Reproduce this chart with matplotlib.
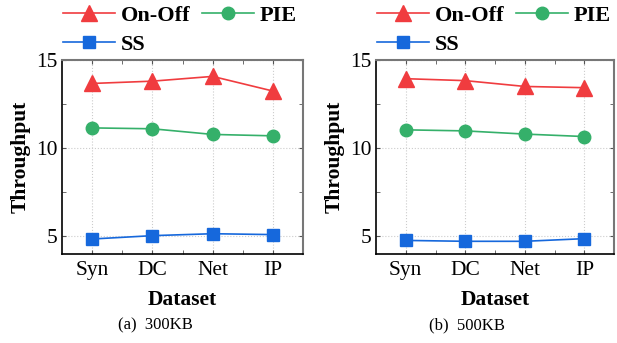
import numpy as np
import matplotlib.pyplot as plt

plt.rcParams['font.family'] = ['Liberation Serif', 'DejaVu Serif']

datasets = ['Syn', 'DC', 'Net', 'IP']
onoff_300 = [13.67, 13.80, 14.07, 13.24]
pie_300 = [11.15, 11.10, 10.78, 10.70]
ss_300 = [4.85, 5.04, 5.15, 5.10]
onoff_500 = [13.94, 13.83, 13.50, 13.43]
pie_500 = [11.04, 10.98, 10.80, 10.66]
ss_500 = [4.77, 4.72, 4.72, 4.87]
captions = ['(a)  300KB', '(b)  500KB']

red = '#f03c3f'
green = '#35b06a'
blue = '#1668dc'

fig = plt.figure(figsize=(6.17, 3.43), dpi=100)
W, H = 617, 343
boxes = [(62, 60, 303, 254), (376, 60, 614, 254)]
panels = [(onoff_300, pie_300, ss_300), (onoff_500, pie_500, ss_500)]
cap_x = [155, 467]

x = np.arange(len(datasets))
for (x0, y0, x1, y1), (on, pie, ss), cap, cx in zip(boxes, panels, captions, cap_x):
    ax = fig.add_axes([x0 / W, 1 - y1 / H, (x1 - x0) / W, (y1 - y0) / H])
    l1, = ax.plot(x, on, color=red, marker='^', markersize=11, lw=1.2, label='On-Off')
    l2, = ax.plot(x, pie, color=green, marker='o', markersize=9, lw=1.2, label='PIE')
    l3, = ax.plot(x, ss, color=blue, marker='s', markersize=8, lw=1.2, label='SS')
    ax.set_xlim(-0.5, 3.5)
    ax.set_ylim(4, 15)
    ax.set_xticks(x)
    ax.set_xticklabels(datasets)
    ax.set_xticks([0.5, 1.5, 2.5], minor=True)
    ax.set_yticks([5, 10, 15])
    ax.set_yticks([7.5, 12.5], minor=True)
    ax.grid(True, which='major', linestyle=':', color='#cccccc', lw=0.8)
    ax.tick_params(axis='both', which='both', direction='in', top=True, right=True,
                   labelsize=15.5, length=3, color='#555555')
    ax.tick_params(axis='x', pad=5)
    ax.tick_params(axis='y', pad=3)
    for s in ['top', 'right']:
        ax.spines[s].set_color('#777777')
        ax.spines[s].set_linewidth(1.5)
    for s in ['left', 'bottom']:
        ax.spines[s].set_color('black')
        ax.spines[s].set_linewidth(1.2)
    ax.set_ylabel('Throughput', fontsize=15.5, fontweight='bold', labelpad=4)
    ax.set_xlabel('Dataset', fontsize=15.5, fontweight='bold', labelpad=7)
    ax.legend(handles=[l1, l3, l2], ncol=2, loc='upper left',
              bbox_to_anchor=((x0 + 1) / W, 1 - 5 / H), bbox_transform=fig.transFigure,
              frameon=False, prop={'weight': 'bold', 'size': 16}, handlelength=2.35,
              handletextpad=0.25, columnspacing=0.5, labelspacing=0.4,
              borderaxespad=0, borderpad=0)
    fig.text(cx / W, 1 - 325 / H, cap, ha='center', va='center', fontsize=12)

fig.savefig('out.png', dpi=100)
